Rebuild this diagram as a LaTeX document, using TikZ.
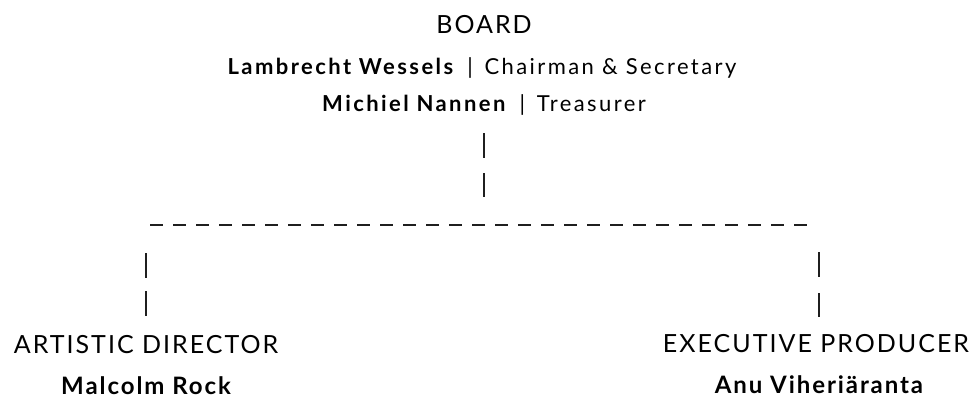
\documentclass[tikz,border=0pt]{standalone}
\usepackage{fontspec}
\setmainfont{Lato}
\newfontfamily\capsfont[LetterSpace=8]{Lato}
\newfontfamily\bodyfont[LetterSpace=11]{Lato}
\newfontfamily\namefont[LetterSpace=8]{Lato}

\tikzset{
    head/.style={anchor=base, inner sep=0pt, font=\capsfont\fontsize{25}{29}\selectfont},
    line/.style={anchor=base, inner sep=0pt, font=\bodyfont\fontsize{22}{26}\selectfont},
    person/.style={anchor=base, inner sep=0pt, font=\namefont\bfseries\fontsize{24}{28}\selectfont},
    vbar/.style={line width=2pt, color=black!88},
    hbar/.style={line width=2pt, color=black!88, dash pattern=on 13pt off 10pt}
}

\begin{document}
\begin{tikzpicture}[x=1pt, y=-1pt]
    % 画布: 979 x 399, 以像素为单位
    \useasboundingbox (0,0) rectangle (979,399);

    % 董事会
    \node[head] (board) at (484,33) {BOARD};
    \node[line] (chair) at (482,74) {\textbf{Lambrecht Wessels}\, | \,Chairman \& Secretary};
    \node[line] (treas) at (484,111) {\textbf{Michiel Nannen}\, | \,Treasurer};

    % 分支点
    \coordinate (forkL) at (146,225);
    \coordinate (forkR) at (819,225);

    % 两个职位
    \node[head] (art) at (146,353) {ARTISTIC DIRECTOR};
    \node[person] (malcolm) at (146,394) {Malcolm Rock};
    \node[head] (exec) at (816,352) {EXECUTIVE PRODUCER};
    \node[person] (anu) at (819,393) {Anu Viheriäranta};

    % 连线: 竖线各两段, 横线为虚线
    \draw[vbar, dash pattern=on 25pt off 15pt, shorten <=22pt, shorten >=28pt] (treas.base) -- (treas.base |- forkL);
    \draw[hbar, shorten <=4pt, shorten >=8pt] (forkL) -- (forkR);
    \draw[vbar, dash pattern=on 25pt off 13pt, shorten <=28pt, shorten >=37pt] (forkL) -- (forkL |- art.base);
    \draw[vbar, dash pattern=on 25pt off 16pt, shorten <=27pt, shorten >=35pt] (forkR) -- (forkR |- exec.base);
\end{tikzpicture}
\end{document}
